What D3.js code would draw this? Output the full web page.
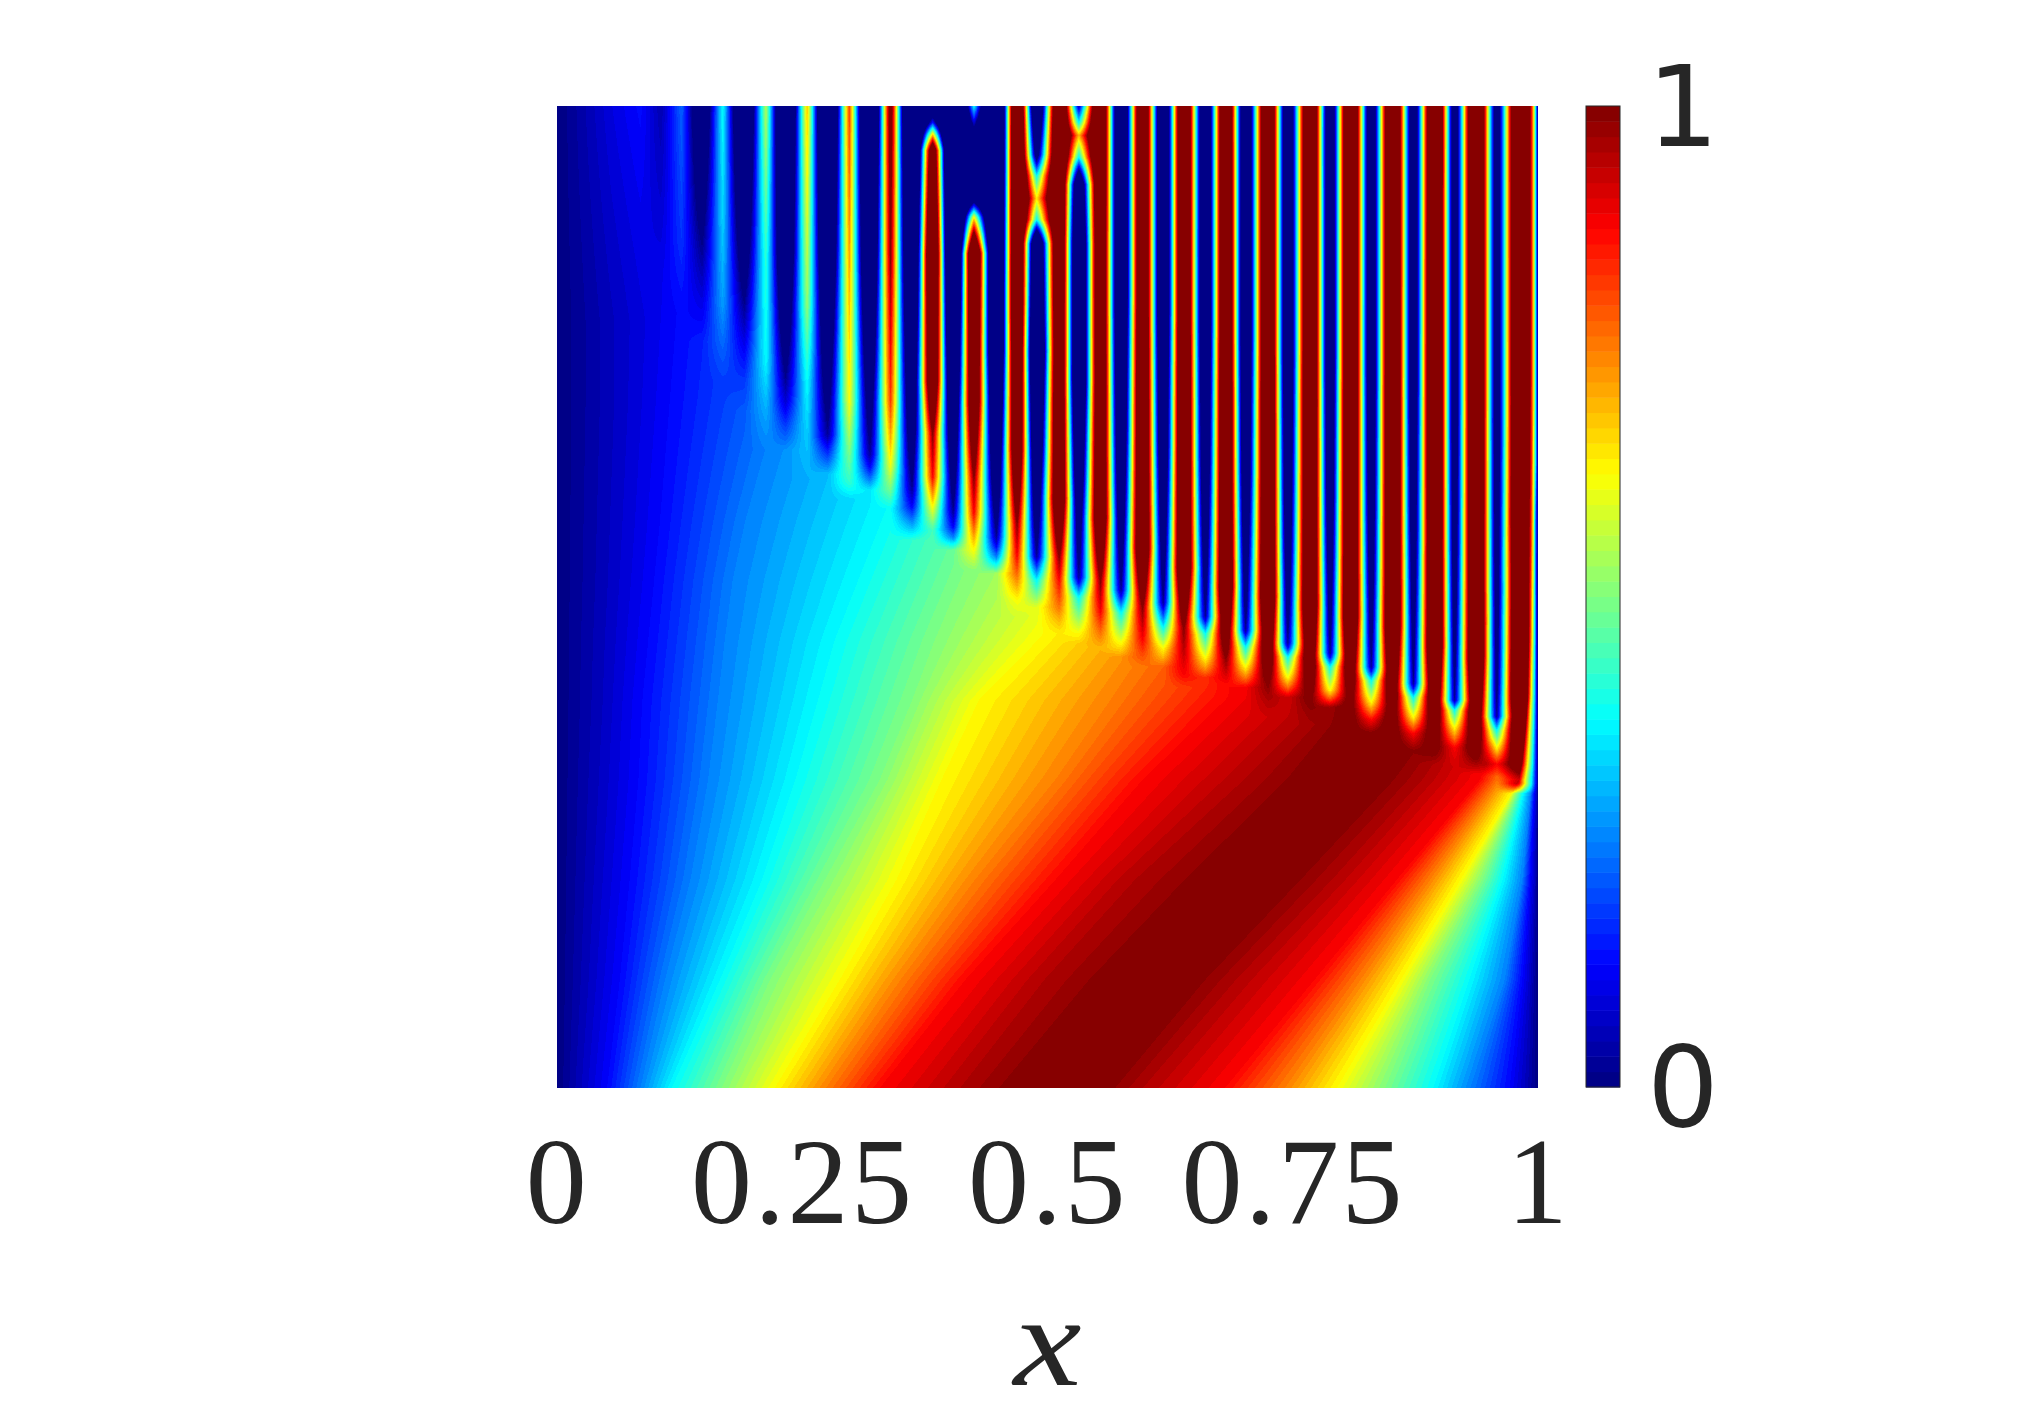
<!DOCTYPE html>
<html><head><meta charset="utf-8">
<style>html,body{margin:0;padding:0;background:#fff}svg{display:block}</style>
<script src="https://cdn.jsdelivr.net/npm/d3@7"></script>
</head><body><div id="chart"></div>
<script>
// ---- tick labels ----
const xTicks = [0, 0.25, 0.5, 0.75, 1];
const xTickLabels = ["0", "0.25", "0.5", "0.75", "1"];
const colorTicks = [0, 1];
const xLabel = "x";

// ---- smooth field: x position of each contour level, at each time row ----
const baseRowsT = [0, .11, .212, .314, .395, .456, .517, .578, .639, .7, .802, .904, 1];
const contourLevels = [.06, .125, .25, .375, .5, .625, .75, .875, .95, 1, 1, .95, .875, .75, .625, .5, .375, .25, .125, .06];
const contourX = [
  [.024,.031,.036,.041,.045,.047,.05,.052,.054,.056,.056,.056,.056],
  [.051,.064,.074,.083,.087,.093,.099,.105,.11,.115,.123,.136,.146],
  [.085,.11,.136,.154,.164,.171,.179,.192,.209,.227,.248,.268,.288],
  [.117,.166,.209,.243,.266,.283,.307,.331,.355,.375,.401,.421,.441],
  [.168,.217,.273,.329,.362,.385,.411,.436,.457,.477,.503,.528,.554],
  [.222,.288,.346,.392,.43,.49,.54,.57,.59,.605,.635,.665,.7],
  [.274,.35,.426,.508,.564,.605,.645,.676,.701,.722,.747,.768,.788],
  [.329,.416,.508,.597,.681,.737,.768,.793,.808,.819,.829,.839,.849],
  [.407,.492,.584,.696,.778,.813,.844,.854,.859,.864,.87,.875,.88],
  [.47,.565,.665,.765,.824,.849,.864,.875,.88,.885,.89,.895,.9],
  [.555,.645,.742,.839,.9,.941,.961,.971,.974,.976,.977,.978,.979],
  [.6,.695,.793,.885,.941,.961,.971,.977,.98,.982,.983,.984,.985],
  [.681,.772,.856,.941,.971,.977,.982,.985,.987,.988,.989,.99,.99],
  [.742,.819,.89,.961,.984,.987,.989,.99,.991,.992,.992,.992,.992],
  [.795,.86,.921,.981,.989,.991,.992,.993,.994,.994,.994,.994,.994],
  [.844,.89,.943,.984,.991,.993,.994,.995,.995,.996,.996,.996,.996],
  [.893,.93,.964,.988,.993,.995,.996,.996,.997,.997,.997,.997,.997],
  [.931,.966,.984,.994,.996,.997,.997,.997,.998,.998,.998,.998,.998],
  [.971,.984,.992,.997,.998,.998,.998,.998,.999,.999,.999,.999,.999],
  [.987,.993,.997,.999,.999,.999,.999,.9995,.9995,.9995,.9995,.9995,.9995]
];

// ---- stripes: crest / trough centres, and the value along each one as [t, u]
// (null = stripe has merged into the smooth field) ----
const stripeX = [.085,.106,.127,.148,.169,.191,.213,.233,.255,.276,.298,.319,.34,.362,.383,.404,.425,.448,.469,.489,.512,.532,.554,.575,.597,.618,.639,.661,.682,.702,.725,.745,.768,.788,.809,.83,.852,.873,.895,.915,.937,.958,.981];
const stripeKnots = [
  [[.78,null],[1,.13]],
  [[.83,null],[1,.05]],
  [[.79,null],[.86,.17],[1,.22]],
  [[.76,null],[.8,.1],[.86,.01],[1,-.2]],
  [[.72,null],[.8,.28],[.88,.33],[1,.38]],
  [[.69,null],[.72,.18],[.76,.1],[.8,.01],[.9,-.2],[1,-.4]],
  [[.65,null],[.74,.37],[.85,.42],[1,.55]],
  [[.65,null],[.675,.18],[.7,.08],[.725,.01],[.85,-.3],[1,-.55]],
  [[.62,null],[.72,.38],[.8,.52],[.9,.6],[1,.68]],
  [[.625,null],[.653,.125],[.665,.03],[.75,-.15],[.85,-.4],[1,-.67]],
  [[.6,null],[.616,.42],[.7,.62],[.85,.72],[1,.82]],
  [[.609,null],[.632,.125],[.645,.03],[.72,-.15],[.85,-.5],[1,-.78]],
  [[.59,null],[.606,.47],[.632,.6],[.66,.7],[.7,.82],[.85,1],[1,1.1]],
  [[.558,null],[.578,.25],[.592,.125],[.609,.03],[.7,-.25],[.85,-.6],[1,-.85]],
  [[.568,null],[.592,.625],[.622,.875],[.667,1],[.72,1.4],[.85,1.6],[.955,1.3],[.972,.625],[.983,.15],[1,-.3]],
  [[.548,null],[.561,.25],[.571,.125],[.586,.03],[.65,-.2],[.72,-.5],[.85,-.9],[1,-1]],
  [[.527,null],[.548,.625],[.585,.875],[.622,1],[.7,1.4],[.85,1.6],[.864,1.2],[.887,.625],[.897,.2],[.91,-.3],[.965,-.3],[.978,0],[1,.38]],
  [[.524,null],[.541,.25],[.551,.125],[.561,.03],[.65,-.35],[.75,-.7],[1,-.9]],
  [[.48,null],[.497,.625],[.541,.875],[.575,1],[.65,1.4],[.8,1.6],[1,1.6]],
  [[.49,null],[.517,.375],[.535,.125],[.541,.03],[.6,-.2],[.65,-.4],[.75,-.7],[.86,-.5],[.884,.375],[.906,.65],[.929,.375],[.95,-.1],[1,-.5]],
  [[.463,null],[.487,.75],[.517,.875],[.541,1],[.6,1.4],[.7,1.45],[1,1.5]],
  [[.453,null],[.463,.625],[.5,.375],[.514,.125],[.52,.03],[.58,-.15],[.62,-.3],[.72,-.6],[.86,-.6],[.92,-.4],[.948,.375],[.97,.7],[.983,.375],[1,.05]],
  [[.449,null],[.484,.875],[.517,1],[.58,1.4],[.7,1.45],[1,1.5]],
  [[.439,null],[.453,.625],[.484,.375],[.5,.125],[.507,.03],[.537,-.08],[.567,-.17],[.607,-.27],[.667,-.39],[.807,-.55],[1,-.55]],
  [[.429,null],[.456,.875],[.49,1],[.55,1.45],[.7,1.5],[1,1.5]],
  [[.429,null],[.448,.625],[.469,.375],[.487,.125],[.494,.03],[.524,-.08],[.554,-.16],[.594,-.24],[.654,-.36],[.794,-.5],[1,-.5]],
  [[.408,null],[.42,.875],[.469,1],[.53,1.48],[.7,1.55],[1,1.55]],
  [[.418,null],[.438,.625],[.463,.375],[.475,.125],[.48,.03],[.51,-.07],[.54,-.14],[.58,-.22],[.64,-.32],[.78,-.45],[1,-.45]],
  [[.39,null],[.412,.875],[.439,1],[.51,1.48],[.7,1.55],[1,1.55]],
  [[.408,null],[.429,.625],[.449,.375],[.461,.125],[.466,.03],[.496,-.07],[.526,-.13],[.566,-.21],[.626,-.31],[.766,-.43],[1,-.43]],
  [[.378,null],[.412,1],[.5,1.5],[.7,1.57],[1,1.57]],
  [[.398,null],[.418,.625],[.439,.375],[.448,.125],[.453,.03],[.483,-.06],[.513,-.12],[.553,-.2],[.613,-.28],[.753,-.4],[1,-.4]],
  [[.37,null],[.4,1.02],[.49,1.5],[.7,1.6],[1,1.6]],
  [[.388,null],[.405,.625],[.429,.375],[.438,.125],[.443,.03],[.473,-.06],[.503,-.11],[.543,-.18],[.603,-.26],[.743,-.36],[1,-.36]],
  [[.35,null],[.4,1.05],[.48,1.52],[.7,1.62],[1,1.62]],
  [[.361,null],[.375,.875],[.393,.625],[.415,.375],[.424,.125],[.429,.03],[.459,-.05],[.489,-.1],[.529,-.16],[.589,-.23],[.729,-.32],[1,-.32]],
  [[.34,null],[.39,1.1],[.47,1.55],[.7,1.65],[1,1.65]],
  [[.344,null],[.361,.875],[.378,.625],[.398,.375],[.407,.125],[.412,.03],[.442,-.04],[.472,-.09],[.512,-.14],[.572,-.2],[.712,-.28],[1,-.28]],
  [[.33,null],[.37,1.1],[.45,1.58],[.7,1.68],[1,1.68]],
  [[.327,null],[.347,.875],[.367,.625],[.385,.375],[.392,.125],[.395,.03],[.425,-.03],[.455,-.07],[.495,-.11],[.555,-.16],[.695,-.22],[1,-.22]],
  [[.32,null],[.35,1.1],[.44,1.58],[.7,1.67],[1,1.67]],
  [[.317,null],[.33,.875],[.347,.625],[.364,.375],[.375,.125],[.378,.03],[.408,-.03],[.438,-.06],[.478,-.09],[.538,-.13],[.678,-.18],[1,-.18]],
  [[.3,null],[.31,.875],[.33,1.1],[.4,1.5],[1,1.6]]
];

// ---- layout ----
const width = 2025, height = 1414;
const plot = {left: 557, right: 1538, top: 106, bottom: 1088};
const bar = {left: 1586, right: 1620, top: 106, bottom: 1087};
const ink = "#262626";

const xScale = d3.scaleLinear([0, 1], [plot.left, plot.right]);
const tScale = d3.scaleLinear([0, 1], [plot.bottom, plot.top]);
const barScale = d3.scaleLinear([0, 1], [bar.bottom, bar.top]);

// MATLAB jet with 64 levels
const jetN = 64;
function jetChannel(v) { return Math.max(0, Math.min(1, 1.5 - Math.abs(4 * v - 2))); }
const jet = d3.range(jetN).map(i => {
  const v = (i + 1) / jetN - 0.5 / jetN;
  return d3.rgb(255 * jetChannel(v - 0.25), 255 * jetChannel(v), 255 * jetChannel(v + 0.25));
});
const colorScale = d3.scaleQuantize().domain([0, 1]).range(jet);

const contourAt = contourX.map(xs => d3.scaleLinear(baseRowsT, xs).clamp(true));

function knotDeviation(knots, x, t, base) {
  if (t <= knots[0][0]) return 0;
  for (let i = 1; i < knots.length; i++) {
    if (t <= knots[i][0]) {
      const a = knots[i - 1], b = knots[i];
      const da = a[1] === null ? 0 : a[1] - base(x);
      const db = b[1] === null ? 0 : b[1] - base(x);
      return da + (db - da) * (t - a[0]) / (b[0] - a[0]);
    }
  }
  const last = knots[knots.length - 1];
  return last[1] - base(x);
}

const W = plot.right - plot.left, H = plot.bottom - plot.top;
const canvas = document.createElement("canvas");
canvas.width = W; canvas.height = H;
const ctx = canvas.getContext("2d");
const img = ctx.createImageData(W, H);
const nodesX = [0, ...stripeX, 1];

for (let py = 0; py < H; py++) {
  const t = tScale.invert(plot.top + py + 0.5);
  const base = d3.scaleLinear(
    [0, ...contourAt.map(c => c(t)), 1],
    [0, ...contourLevels, 0]
  ).clamp(true);
  const dev = [0, ...stripeX.map((x, i) => knotDeviation(stripeKnots[i], x, t, base)), 0];
  let j = 0;
  for (let px = 0; px < W; px++) {
    const x = xScale.invert(plot.left + px + 0.5);
    while (j < nodesX.length - 2 && x > nodesX[j + 1]) j++;
    const s = (x - nodesX[j]) / (nodesX[j + 1] - nodesX[j]);
    const S = 0.75 * s + 0.25 * (0.5 - 0.5 * Math.cos(Math.PI * s));
    const u = Math.max(0, Math.min(1, base(x) + dev[j] + (dev[j + 1] - dev[j]) * S));
    const c = colorScale(u);
    const k = (py * W + px) * 4;
    img.data[k] = c.r; img.data[k + 1] = c.g; img.data[k + 2] = c.b; img.data[k + 3] = 255;
  }
}
ctx.putImageData(img, 0, 0);

const svg = d3.select("#chart").append("svg").attr("width", width).attr("height", height);

svg.append("image")
  .attr("x", xScale(0)).attr("y", tScale(1))
  .attr("width", xScale(1) - xScale(0)).attr("height", tScale(0) - tScale(1))
  .attr("href", canvas.toDataURL());

// colour bar
const barLevels = d3.range(jetN);
svg.append("g").selectAll("rect").data(barLevels).join("rect")
  .attr("x", bar.left).attr("width", bar.right - bar.left)
  .attr("y", d => barScale((d + 1) / jetN))
  .attr("height", d => barScale(d / jetN) - barScale((d + 1) / jetN) + 0.5)
  .attr("fill", d => jet[d]);
svg.append("rect")
  .attr("x", bar.left).attr("y", bar.top)
  .attr("width", bar.right - bar.left).attr("height", bar.bottom - bar.top)
  .attr("fill", "none").attr("stroke", ink).attr("stroke-width", 1);

const barAxis = d3.axisRight(barScale).tickValues(colorTicks).tickFormat(d3.format("d")).tickSize(0);
const barG = svg.append("g").call(barAxis);
barG.select(".domain").remove();
barG.selectAll("text")
  .attr("x", 1683).attr("dy", null)
  .attr("y", d => d === 1 ? 39 : 38)
  .attr("text-anchor", "middle")
  .attr("font-family", "'DejaVu Sans'").attr("font-size", 113).attr("fill", ink);

// x axis
const xAxis = d3.axisBottom(xScale).tickValues(xTicks)
  .tickFormat((d, i) => xTickLabels[i]).tickSize(0);
const xG = svg.append("g").attr("transform", `translate(0,${plot.bottom})`).call(xAxis);
xG.select(".domain").remove();
xG.selectAll("text")
  .attr("y", 135).attr("dy", null)
  .attr("text-anchor", "middle")
  .attr("font-family", "'Liberation Serif'").attr("font-size", 122).attr("letter-spacing", 2.5).attr("fill", ink);

svg.append("text")
  .attr("x", (xScale(0) + xScale(1)) / 2).attr("y", 1385)
  .attr("text-anchor", "middle")
  .attr("font-family", "'Liberation Serif'").attr("font-style", "italic")
  .attr("font-size", 130).attr("textLength", 68).attr("lengthAdjust", "spacingAndGlyphs").attr("fill", ink)
  .text(xLabel);
</script></body></html>
